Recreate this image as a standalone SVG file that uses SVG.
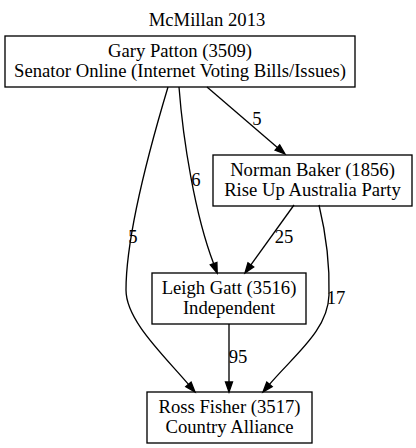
<svg xmlns="http://www.w3.org/2000/svg" width="416" height="448" viewBox="0 0 416 448" font-family="'Liberation Serif', 'DejaVu Serif', serif" font-size="18.67">
<style>
text{fill:#000;text-anchor:middle}
.node rect{fill:none;stroke:#000;stroke-width:1.33}
.edge path{fill:none;stroke:#000;stroke-width:1.33}
.edge polygon{fill:#000;stroke:#000;stroke-width:1.33}
</style>
<rect x="0" y="0" width="416" height="448" fill="#fff"/>
<text x="207" y="26">McMillan 2013</text>
<g id="connectors">
<g class="edge" id="e_gary_norman">
<path d="M207,87 L277.4,147.5"/>
<polygon points="275.1,150.2 285,154 279.7,144.8"/>
<text x="257" y="125">5</text>
</g>
<g class="edge" id="e_gary_leigh">
<path d="M179,87 C183,140 195,215 213.6,263.6"/>
<polygon points="210.3,264.8 217.2,273 216.9,262.4"/>
<text x="196" y="186">6</text>
</g>
<g class="edge" id="e_gary_ross">
<path d="M168,87 C153,137 126,230 126,290 C126,320 162.5,354 188.5,384.4"/>
<polygon points="185.8,386.6 195,392 191.1,382.1"/>
<text x="133" y="243">5</text>
</g>
<g class="edge" id="e_norman_leigh">
<path d="M294,205 L250.9,264.9"/>
<polygon points="248,262.8 245,273 253.7,267"/>
<text x="284" y="243">25</text>
</g>
<g class="edge" id="e_norman_ross">
<path d="M319,205 C325,230 330,260 329,295 C328,330 295.5,354 269.5,384.4"/>
<polygon points="266.8,382.1 263,392 272.2,386.6"/>
<text x="336" y="304">17</text>
</g>
<g class="edge" id="e_leigh_ross">
<path d="M229,324 L229,382"/>
<polygon points="225.5,382 229,392 232.5,382"/>
<text x="238" y="363">95</text>
</g>
</g>
<g class="node" id="n_gary">
<rect x="5" y="36" width="350" height="51"/>
<text x="180" y="57">Gary Patton (3509)</text>
<text x="180" y="77">Senator Online (Internet Voting Bills/Issues)</text>
</g>
<g class="node" id="n_norman">
<rect x="213" y="155" width="199" height="51"/>
<text x="312.5" y="176">Norman Baker (1856)</text>
<text x="312.5" y="196">Rise Up Australia Party</text>
</g>
<g class="node" id="n_leigh">
<rect x="152" y="273" width="154" height="51"/>
<text x="229" y="294">Leigh Gatt (3516)</text>
<text x="229" y="314">Independent</text>
</g>
<g class="node" id="n_ross">
<rect x="147" y="392" width="165" height="51"/>
<text x="229.5" y="413">Ross Fisher (3517)</text>
<text x="229.5" y="433">Country Alliance</text>
</g>
</svg>
